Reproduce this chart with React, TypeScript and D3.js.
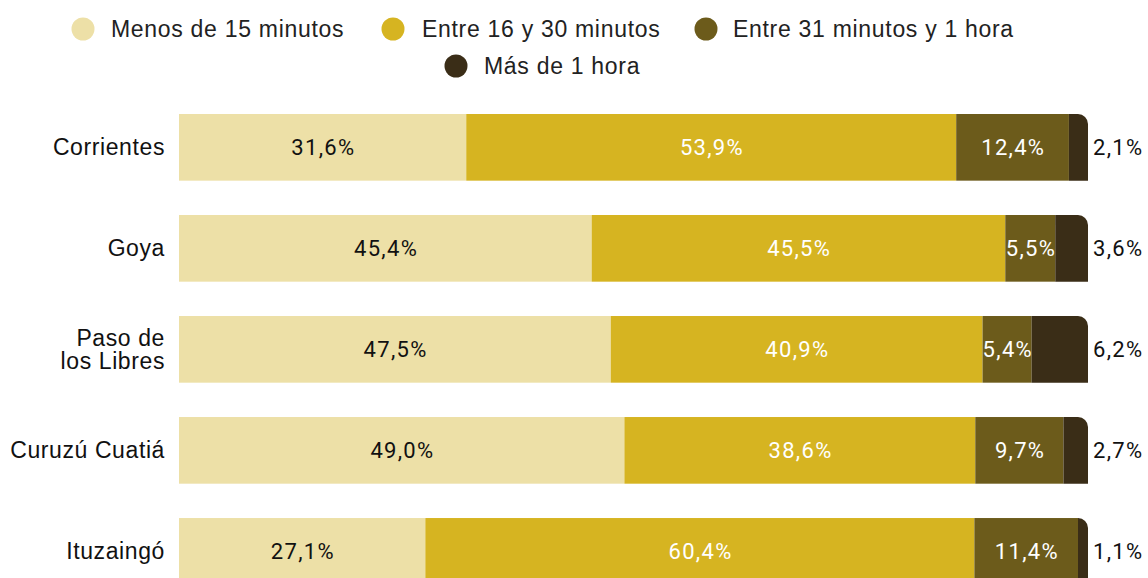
import React from "react";
import * as d3 from "d3";

const categories = ["Corrientes", "Goya", "Paso de\nlos Libres", "Curuzú Cuatiá", "Ituzaingó"];
const seriesNames = ["Menos de 15 minutos", "Entre 16 y 30 minutos", "Entre 31 minutos y 1 hora", "Más de 1 hora"];
const menos15 = [31.6, 45.4, 47.5, 49.0, 27.1];
const entre16y30 = [53.9, 45.5, 40.9, 38.6, 60.4];
const entre31y1h = [12.4, 5.5, 5.4, 9.7, 11.4];
const mas1h = [2.1, 3.6, 6.2, 2.7, 1.1];
const colors = ["#EDE0A7", "#D6B421", "#6C5B1B", "#3A2D17"];
const labelColors = ["#111", "#fff", "#fff", "#111"];

const W = 1148, H = 578;
const SANS = "Liberation Sans, Arial, sans-serif";

export default function App() {
  const series = [menos15, entre16y30, entre31y1h, mas1h];
  const x = d3.scaleLinear().domain([0, 100]).range([179, 1088]);
  const y = d3.scaleBand<number>().domain(d3.range(categories.length)).range([114, 584.7]).paddingInner(0.34).paddingOuter(0);
  const fmt = (v: number) => v.toFixed(1).replace(".", ",") + "%";
  const r = 10;

  const legend = [
    { cx: 83, cy: 29, tx: 111 },
    { cx: 393, cy: 29, tx: 422 },
    { cx: 706, cy: 29, tx: 733 },
    { cx: 456, cy: 66, tx: 484 },
  ];

  return (
    <svg width={W} height={H} style={{ position: "absolute", left: 0, top: 0, display: "block" }}>
      <rect width={W} height={H} fill="#fff" />
      {legend.map((l, i) => (
        <g key={i}>
          <circle cx={l.cx} cy={l.cy} r={11.5} fill={colors[i]} />
          <text x={l.tx} y={l.cy} dy="0.35em" fontFamily={SANS} fontSize={23} letterSpacing={0.7} fill="#222">{seriesNames[i]}</text>
        </g>
      ))}
      {categories.map((c, ci) => {
        const y0 = y(ci)!;
        const bh = y.bandwidth();
        const cy = y0 + bh / 2;
        let acc = 0;
        const lines = c.split("\n");
        return (
          <g key={ci}>
            <text x={165} y={cy} textAnchor="end" fontFamily={SANS} fontSize={23} letterSpacing={0.6} fill="#111">
              {lines.map((ln, li) => (
                <tspan key={li} x={165} dy={li === 0 ? `${0.35 - (lines.length - 1) * 0.5}em` : "1em"}>{ln}</tspan>
              ))}
            </text>
            {series.map((s, si) => {
              const v = s[ci];
              const x0 = x(acc);
              acc += v;
              const x1 = x(acc);
              const w = x1 - x0;
              const last = si === series.length - 1;
              const shape = last
                ? <path d={`M${x0},${y0} H${x1 - r} A${r},${r} 0 0 1 ${x1},${y0 + r} V${y0 + bh} H${x0} Z`} fill={colors[si]} />
                : <rect x={x0} y={y0} width={w} height={bh} fill={colors[si]} />;
              return (
                <g key={si}>
                  {shape}
                  {last ? (
                    <text x={x1 + 5} y={cy} dy="0.35em" fontFamily="Roboto, sans-serif" fontSize={22} letterSpacing={1.3} fill="#111">{fmt(v)}</text>
                  ) : (
                    <text x={(x0 + x1) / 2 + 0.7} y={cy} dy="0.35em" textAnchor="middle" fontFamily="Roboto, sans-serif" fontSize={22} letterSpacing={1.3} fill={labelColors[si]}>{fmt(v)}</text>
                  )}
                </g>
              );
            })}
          </g>
        );
      })}
    </svg>
  );
}
